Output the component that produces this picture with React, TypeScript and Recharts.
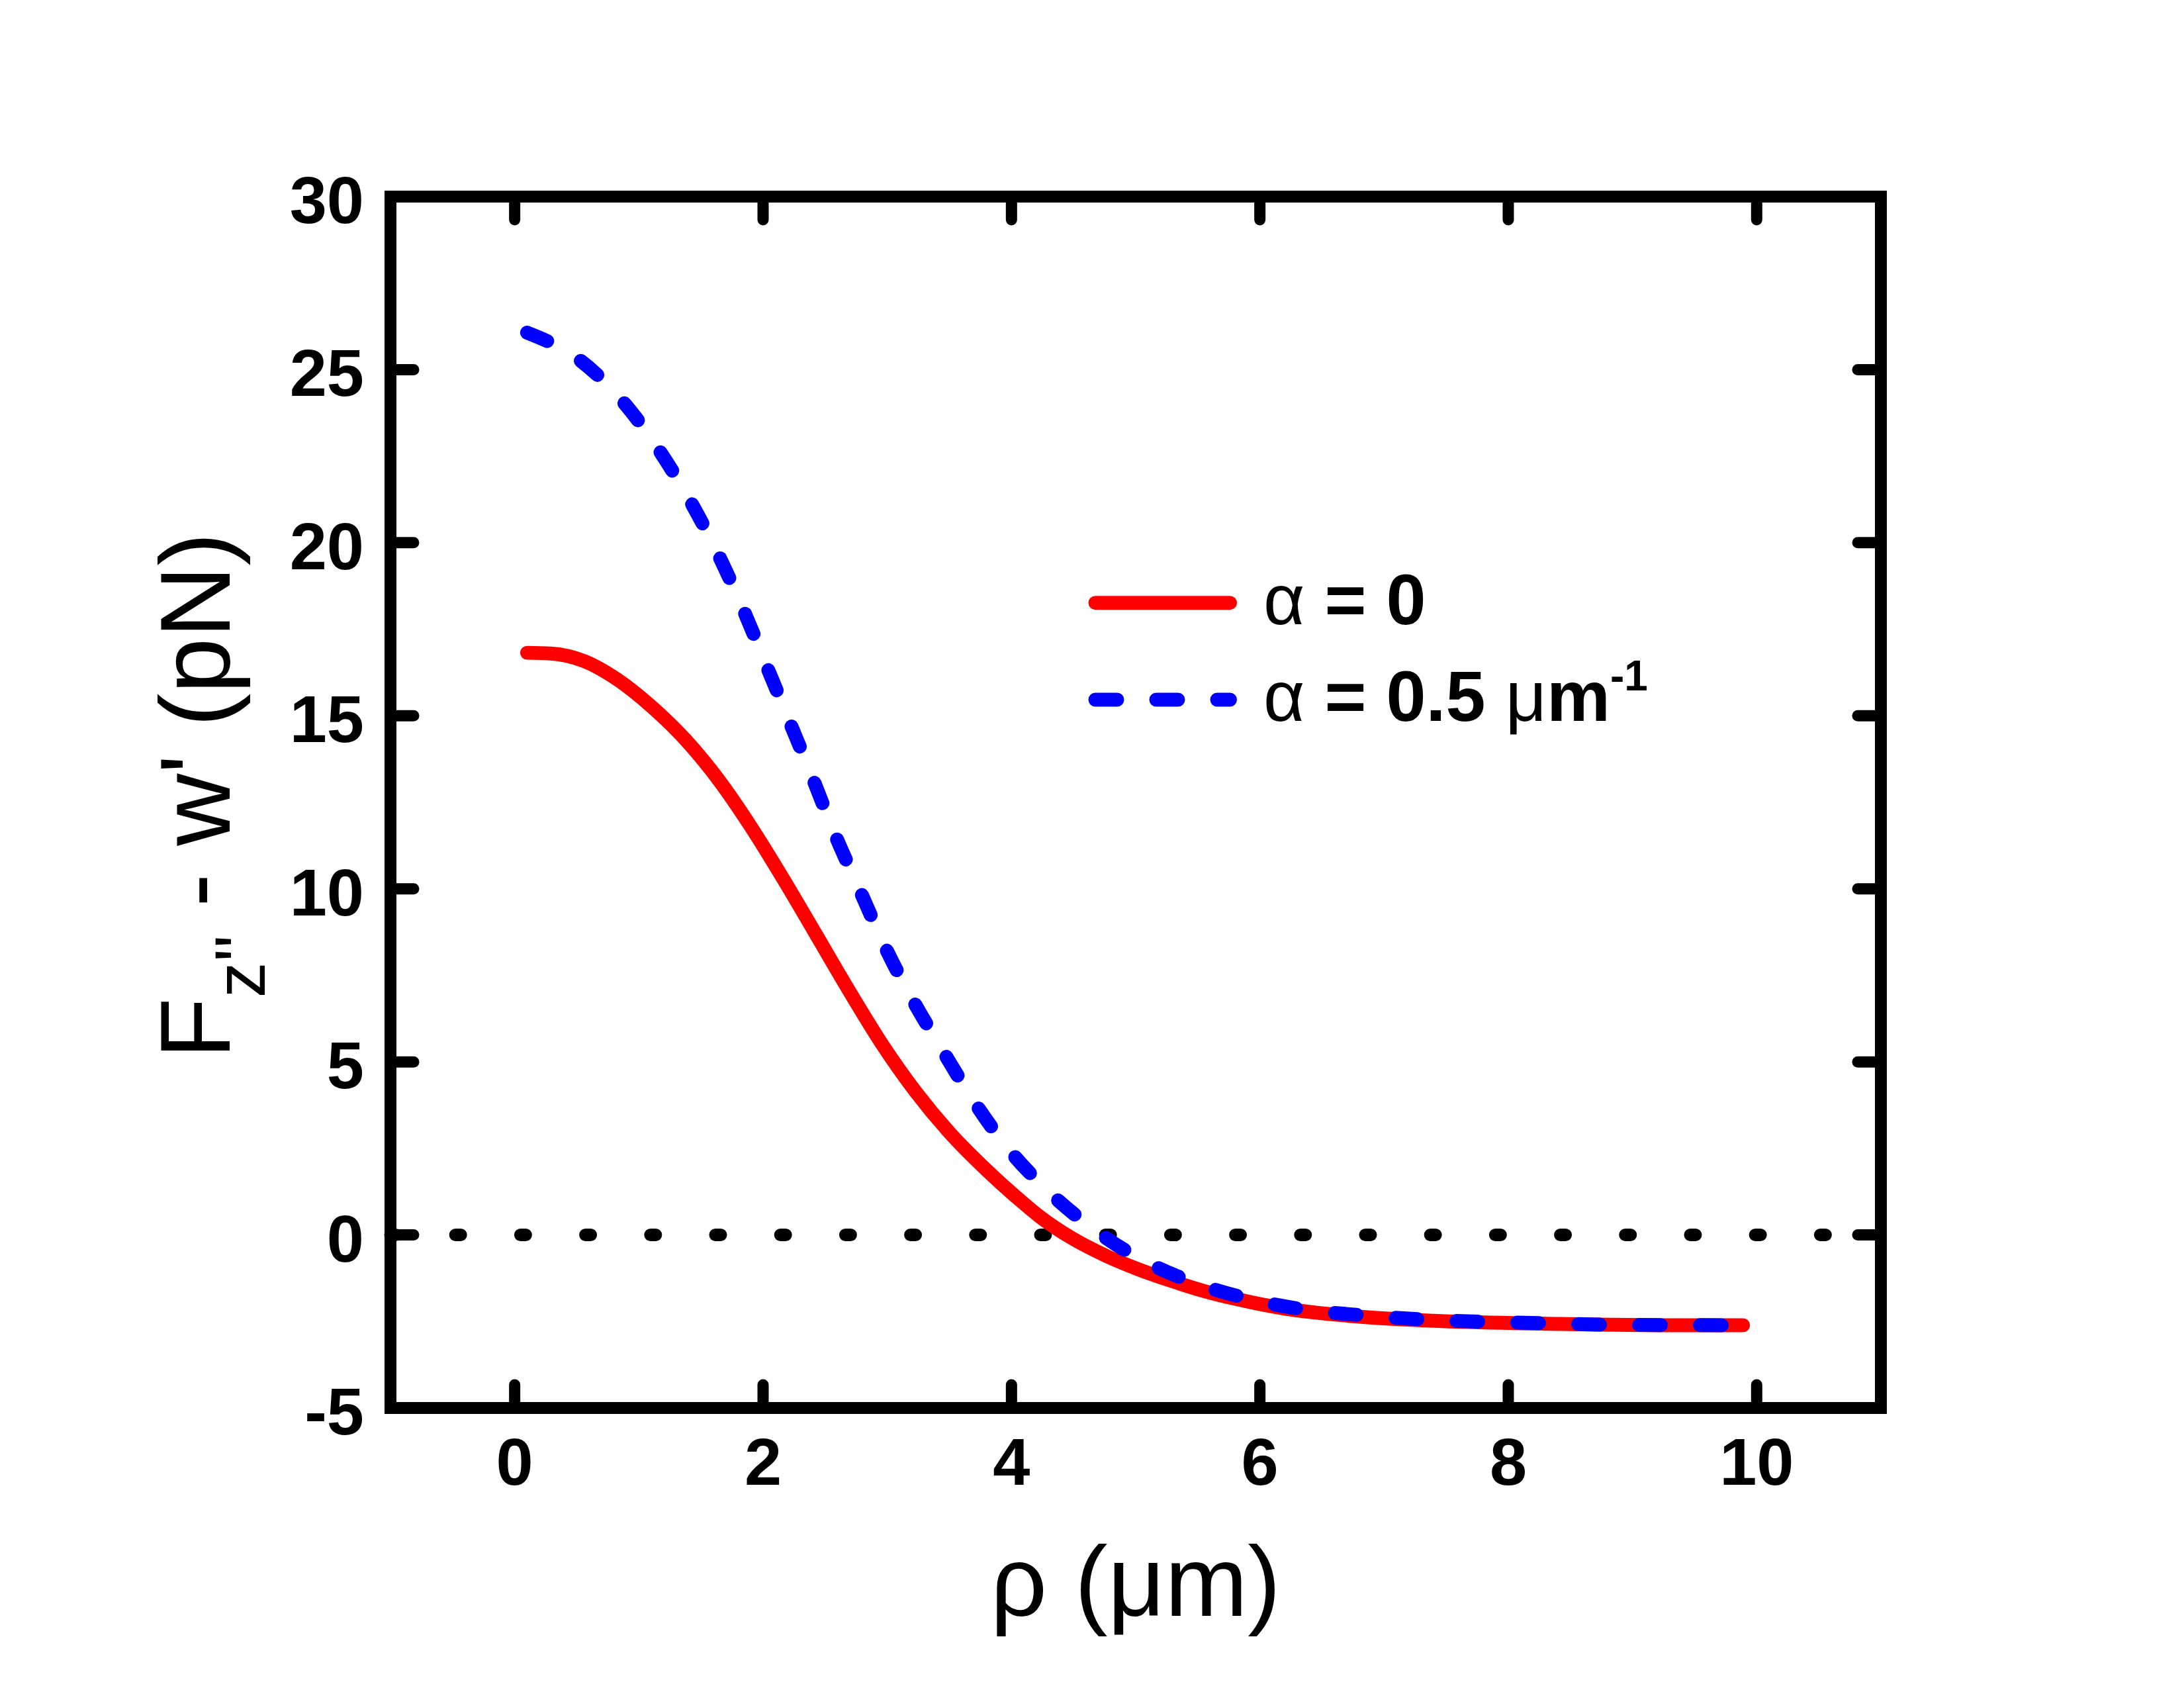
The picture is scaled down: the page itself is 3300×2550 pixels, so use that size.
import { Legend, Line, LineChart, ReferenceLine, XAxis, YAxis } from 'recharts';

const FONT = '"Liberation Sans", Arial, Helvetica, sans-serif';

const xTicks = [0, 2, 4, 6, 8, 10];
const yTicks = [-5, 0, 5, 10, 15, 20, 25, 30];

// alpha = 0 (red, solid)
const rhoA0 = [0.1, 0.29, 0.56, 0.83, 1.1, 1.38, 1.65, 1.89, 2.15, 2.42, 2.69, 2.96, 3.23, 3.5, 3.78, 4.05, 4.22, 4.49, 4.76, 5.02, 5.29, 5.56, 5.82, 6.2, 6.8, 7.4, 8.42, 9.44, 9.89];
const forceA0 = [16.82, 16.8, 16.58, 16.04, 15.27, 14.29, 13.11, 11.86, 10.36, 8.72, 7.07, 5.5, 4.13, 2.96, 1.94, 1.06, 0.55, -0.1, -0.6, -0.99, -1.33, -1.63, -1.86, -2.13, -2.36, -2.48, -2.57, -2.61, -2.61];

// alpha = 0.5 um^-1 (blue, dashed)
const rhoA05 = [0.1, 0.53, 0.89, 1.18, 1.43, 1.65, 1.85, 2.04, 2.22, 2.4, 2.58, 2.78, 2.98, 3.2, 3.44, 3.69, 3.96, 4.27, 4.63, 4.97, 5.41, 5.87, 6.35, 6.82, 7.3, 7.79, 8.28, 8.76, 9.87];
const forceA05 = [26.07, 25.26, 24.0, 22.58, 21.1, 19.58, 17.99, 16.34, 14.77, 13.19, 11.56, 9.95, 8.34, 6.82, 5.36, 3.9, 2.55, 1.35, 0.25, -0.56, -1.3, -1.81, -2.15, -2.32, -2.44, -2.51, -2.55, -2.59, -2.61];

const a0Data = rhoA0.map((rho, i) => ({ rho, f: forceA0[i] }));
const a05Data = rhoA05.map((rho, i) => ({ rho, f: forceA05[i] }));

const RED = '#ff0000';
const BLUE = '#0000ff';
const BLUE_DASH = '33 59';

const tickLine = { stroke: '#000', strokeWidth: 17, strokeLinecap: 'round' as const };
const tickText = { fontFamily: FONT, fontWeight: 'bold' as const, fontSize: 101, fill: '#000' };

const BottomTick = ({ x, y, payload }: any) => (
  <g>
    <line x1={x} y1={y} x2={x} y2={y - 35} {...tickLine} />
    <text x={x} y={y + 116} textAnchor="middle" {...tickText}>
      {payload.value}
    </text>
  </g>
);

const TopTick = ({ x, y }: any) => <line x1={x} y1={y} x2={x} y2={y + 35} {...tickLine} />;

const LeftTick = ({ x, y, payload }: any) => (
  <g>
    <line x1={x} y1={y} x2={x + 35} y2={y} {...tickLine} />
    <text x={x - 40} y={y + 40} textAnchor="end" {...tickText}>
      {payload.value}
    </text>
  </g>
);

const RightTick = ({ x, y }: any) => <line x1={x} y1={y} x2={x - 35} y2={y} {...tickLine} />;

const YTitle = ({ viewBox }: any) => {
  const bx = viewBox.x + viewBox.width - 243;
  const cy = viewBox.y + viewBox.height / 2 - 10;
  return (
    <text
      x={bx}
      y={cy}
      transform={`rotate(-90 ${bx} ${cy})`}
      textAnchor="middle"
      fontFamily={FONT}
      fontSize={151}
      fill="#000"
      style={{ whiteSpace: 'pre' }}
    >
      F<tspan fontSize={108} dy={53}>{"z''"}</tspan>
      <tspan dy={-53}>{" - w' (pN)"}</tspan>
    </text>
  );
};

const XTitle = ({ viewBox }: any) => (
  <text
    x={viewBox.x + viewBox.width / 2}
    y={viewBox.y + 314}
    textAnchor="middle"
    fontFamily={FONT}
    fontSize={150}
    fill="#000"
    style={{ whiteSpace: 'pre' }}
  >
    ρ (μm)
  </text>
);

const LegendBox = () => (
  <svg width={1000} height={320} style={{ display: 'block' }}>
    <line x1={55} y1={90.7} x2={258.5} y2={90.7} stroke={RED} strokeWidth={21} strokeLinecap="round" />
    <text x={309} y={123} fontFamily={FONT} fontSize={108} fill="#000" style={{ whiteSpace: 'pre' }}>
      α<tspan fontWeight="bold">{' = 0'}</tspan>
    </text>
    <line
      x1={55}
      y1={237}
      x2={258.5}
      y2={237}
      stroke={BLUE}
      strokeWidth={21}
      strokeLinecap="round"
      strokeDasharray={BLUE_DASH}
    />
    <text x={309} y={269} fontFamily={FONT} fontSize={108} fill="#000" style={{ whiteSpace: 'pre' }}>
      α<tspan fontWeight="bold">{' = 0.5 '}</tspan>
      <tspan>μ</tspan>
      <tspan fontWeight="bold">m</tspan>
      <tspan fontWeight="bold" fontSize={64} dy={-46}>
        -1
      </tspan>
    </text>
  </svg>
);

const frame = { stroke: '#000', strokeWidth: 18, strokeLinecap: 'square' as const };

const App = () => {
  return (
    <div style={{ position: 'absolute', left: 0, top: 0, width: 3300, height: 2550, background: '#fff' }}>
      <LineChart width={3300} height={2550} margin={{ top: 247, right: 408, bottom: 273, left: 390 }}>
        <XAxis
          dataKey="rho"
          type="number"
          domain={[-1, 11]}
          ticks={xTicks}
          interval={0}
          allowDataOverflow
          height={150}
          tickSize={0}
          tickMargin={0}
          tickLine={false}
          axisLine={frame}
          tick={BottomTick}
          label={XTitle}
        />
        <XAxis
          xAxisId="top"
          orientation="top"
          dataKey="rho"
          type="number"
          domain={[-1, 11]}
          ticks={xTicks}
          interval={0}
          allowDataOverflow
          height={50}
          tickSize={0}
          tickMargin={0}
          tickLine={false}
          axisLine={frame}
          tick={TopTick}
        />
        <YAxis
          type="number"
          domain={[-5, 30]}
          ticks={yTicks}
          interval={0}
          allowDataOverflow
          width={200}
          tickSize={0}
          tickMargin={0}
          tickLine={false}
          axisLine={frame}
          tick={LeftTick}
          label={YTitle}
        />
        <YAxis
          yAxisId="right"
          orientation="right"
          type="number"
          domain={[-5, 30]}
          ticks={yTicks}
          interval={0}
          allowDataOverflow
          width={50}
          tickSize={0}
          tickMargin={0}
          tickLine={false}
          axisLine={frame}
          tick={RightTick}
        />
        <ReferenceLine
          y={0}
          stroke="#000"
          strokeWidth={19}
          strokeDasharray="8 90.2"
          strokeLinecap="round"
          zIndex={100}
        />
        <Line
          data={a0Data}
          dataKey="f"
          type="monotone"
          stroke={RED}
          strokeWidth={21}
          strokeLinecap="round"
          dot={false}
          activeDot={false}
          isAnimationActive={false}
        />
        <Line
          data={a05Data}
          dataKey="f"
          type="monotone"
          stroke={BLUE}
          strokeWidth={21}
          strokeLinecap="round"
          strokeDasharray={BLUE_DASH}
          dot={false}
          activeDot={false}
          isAnimationActive={false}
        />
        <Legend
          layout="vertical"
          verticalAlign="middle"
          align="center"
          wrapperStyle={{ left: 1600, top: 820, width: 1000, height: 320 }}
          content={LegendBox}
        />
      </LineChart>
    </div>
  );
};

export default App;
